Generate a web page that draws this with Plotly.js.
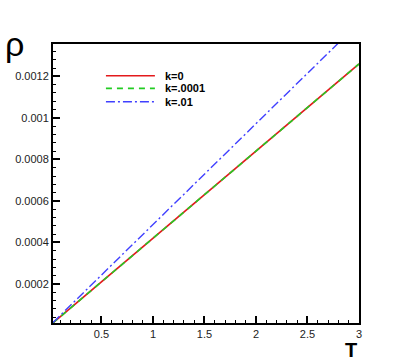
<!DOCTYPE html>
<html>
<head>
<meta charset="utf-8">
<script src="https://cdn.plot.ly/plotly-3.0.1.min.js"></script>
<style>
  html, body { margin: 0; padding: 0; background: #ffffff; }
  #chart { width: 409px; height: 364px; }
</style>
</head>
<body>
<div id="chart"></div>
<script>
//--------------------------------------- datos - start -----------------------------------------------
var temp_T = [0.03, 0.5, 1, 1.5, 2, 2.5, 3];
var rho_k0 = [0.0000126, 0.00021, 0.00042, 0.00063, 0.00084, 0.00105, 0.00126];
var rho_k0001 = [0.0000126, 0.00021, 0.00042, 0.00063, 0.00084, 0.00105, 0.00126];
var rho_k01 = [0.0000146, 0.000243, 0.000486, 0.000729, 0.000972, 0.001215, 0.001458];
var nombres = ['k=0', 'k=.0001', 'k=.01'];
var y_ticks = [0.0002, 0.0004, 0.0006, 0.0008, 0.001, 0.0012];
var y_labels = ['0.0002', '0.0004', '0.0006', '0.0008', '0.001', '0.0012'];
var x_ticks = [0.5, 1, 1.5, 2, 2.5, 3];
var x_labels = ['0.5', '1', '1.5', '2', '2.5', '3'];
//--------------------------------------- datos - end -------------------------------------------------

var font_fam = "'Liberation Sans', Arial, sans-serif";

var tick_font = {
  family: font_fam,
  size: 11,
  color: '#222222'
};

var estilos = [
  { width: 1.6, color: '#e31a1c' },
  { width: 1.6, color: '#22cc22', dash: '6px,5px' },
  { width: 1.4, color: '#4040ff', dash: '9px,3px,2px,3px' }
];

var series = [rho_k0, rho_k0001, rho_k01];

var data_rho = series.map(function (ys, i) {
  return {
    x: temp_T,
    y: ys,
    type: 'scatter',
    mode: 'lines',
    name: nombres[i],
    line: estilos[i]
  };
});

// leyenda hecha a mano (muestras largas y filas juntas como en la figura)
var leyenda_shapes = [];
var leyenda_annots = [];
var ley_y = [0.886, 0.841, 0.793];
nombres.forEach(function (n, i) {
  leyenda_shapes.push({
    type: 'line', xref: 'paper', yref: 'paper',
    x0: 0.173, x1: 0.333, y0: ley_y[i], y1: ley_y[i],
    line: estilos[i]
  });
  leyenda_annots.push({
    text: '<b>' + n + '</b>',
    xref: 'paper', yref: 'paper',
    x: 0.358, y: ley_y[i],
    xanchor: 'left', yanchor: 'middle',
    showarrow: false,
    font: { family: font_fam, size: 11, color: '#000000' }
  });
});

var layout_rho = {
  width: 409,
  height: 364,
  margin: { t: 44, r: 50, l: 53, b: 41 },
  paper_bgcolor: '#ffffff',
  plot_bgcolor: '#ffffff',
  showlegend: false,
  xaxis: {
    range: [0.03, 3],
    tickvals: x_ticks,
    ticktext: x_labels,
    ticks: 'inside',
    ticklen: 7,
    tickwidth: 2,
    tickcolor: '#000000',
    minor: { dtick: 0.1, ticks: 'inside', ticklen: 3, tickwidth: 1, tickcolor: '#000000' },
    showline: true,
    linecolor: '#000000',
    linewidth: 2,
    mirror: true,
    showgrid: false,
    zeroline: false,
    tickfont: tick_font
  },
  yaxis: {
    range: [0.000012, 0.001356],
    tickvals: y_ticks,
    ticktext: y_labels,
    ticks: 'inside',
    ticklen: 7,
    tickwidth: 2,
    tickcolor: '#000000',
    minor: { dtick: 0.00004, tick0: 0, ticks: 'inside', ticklen: 3, tickwidth: 1, tickcolor: '#000000' },
    showline: true,
    linecolor: '#000000',
    linewidth: 2,
    mirror: true,
    showgrid: false,
    zeroline: false,
    tickfont: tick_font
  },
  shapes: leyenda_shapes,
  annotations: leyenda_annots.concat([
    {
      text: 'ρ',
      xref: 'paper', yref: 'paper',
      x: -0.125, y: 1.0,
      xanchor: 'center', yanchor: 'middle',
      showarrow: false,
      font: { family: font_fam, size: 34, color: '#000000' }
    },
    {
      text: '<b>T</b>',
      xref: 'paper', yref: 'paper',
      x: 0.975, y: -0.097,
      xanchor: 'center', yanchor: 'middle',
      showarrow: false,
      font: { family: font_fam, size: 20, color: '#000000' }
    }
  ])
};

Plotly.newPlot('chart', data_rho, layout_rho, { displayModeBar: false });
</script>
</body>
</html>
